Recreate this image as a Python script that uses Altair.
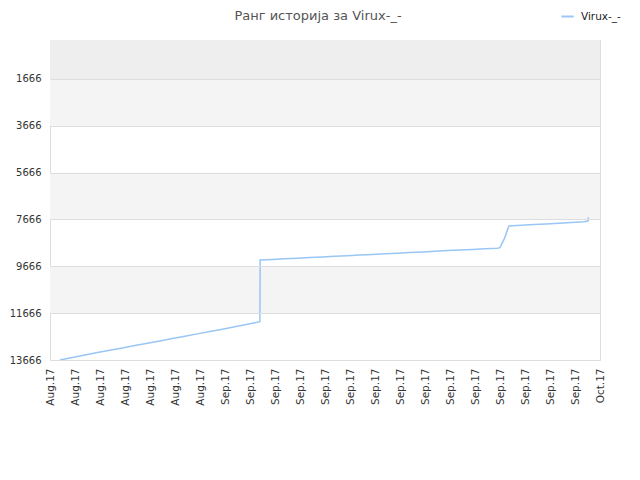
import altair as alt
import pandas as pd

# ---- data ----
dates = [
    "2017-08-18T19:00", "2017-08-19T19:00", "2017-08-20T19:00", "2017-08-21T19:00",
    "2017-08-22T19:00", "2017-08-23T19:00", "2017-08-24T19:00", "2017-08-25T19:00",
    "2017-08-26T19:00", "2017-08-27T19:00", "2017-08-28T19:00", "2017-08-29T19:00",
    "2017-08-30T19:00", "2017-08-31T19:00", "2017-09-01T19:00", "2017-09-02T19:00",
    "2017-09-03T19:00", "2017-09-03T19:30", "2017-09-04T19:00", "2017-09-05T19:00",
    "2017-09-06T19:00", "2017-09-07T19:00", "2017-09-08T19:00", "2017-09-09T19:00",
    "2017-09-10T19:00", "2017-09-11T19:00", "2017-09-12T19:00", "2017-09-13T19:00",
    "2017-09-14T19:00", "2017-09-15T19:00", "2017-09-16T19:00", "2017-09-17T19:00",
    "2017-09-18T19:00", "2017-09-19T19:00", "2017-09-20T19:00", "2017-09-21T19:00",
    "2017-09-22T19:00", "2017-09-23T00:00", "2017-09-23T09:00", "2017-09-23T17:00",
    "2017-09-24T17:00", "2017-09-25T17:00", "2017-09-26T17:00", "2017-09-27T17:00",
    "2017-09-28T17:00", "2017-09-29T17:00", "2017-09-30T01:00", "2017-09-30T02:00",
]
ranks = [
    13666, 13560, 13455, 13350,
    13250, 13150, 13050, 12950,
    12850, 12750, 12650, 12550,
    12450, 12350, 12250, 12140,
    12031, 9396, 9370, 9345,
    9320, 9290, 9265, 9240,
    9210, 9185, 9160, 9130,
    9105, 9075, 9050, 9020,
    8995, 8970, 8945, 8920,
    8895, 8870, 8450, 7944,
    7915, 7885, 7855, 7825,
    7795, 7765, 7730, 7573,
]
series_name = "Virux-_-"
y_ticks = [1666, 3666, 5666, 7666, 9666, 11666, 13666]
x_ticks = [
    "2017-08-18", "2017-08-20", "2017-08-22", "2017-08-24", "2017-08-26",
    "2017-08-28", "2017-08-30", "2017-09-01", "2017-09-03", "2017-09-05",
    "2017-09-07", "2017-09-09", "2017-09-11", "2017-09-13", "2017-09-15",
    "2017-09-17", "2017-09-19", "2017-09-21", "2017-09-23", "2017-09-25",
    "2017-09-27", "2017-09-29", "2017-10-01",
]
band_lo = [1, 1666, 5666, 9666]
band_hi = [1666, 3666, 7666, 11666]
band_col = ["#eeeeee", "#f4f4f4", "#f4f4f4", "#f4f4f4"]

df = pd.DataFrame({"date": pd.to_datetime(dates), "rank": ranks, "series": series_name})
bands = pd.DataFrame({"lo": band_lo, "hi": band_hi, "col": band_col})

x_dom = [pd.Timestamp("2017-08-18").isoformat(), pd.Timestamp("2017-10-01").isoformat()]
tick_vals = [alt.DateTime(year=int(t[0:4]), month=int(t[5:7]), date=int(t[8:10])) for t in x_ticks]

y_scale = alt.Scale(domain=[1, 13666], reverse=True, nice=False, zero=False)
x_scale = alt.Scale(domain=x_dom, nice=False)

y_axis = alt.Axis(values=y_ticks, format="d", ticks=False, domain=False, grid=True, zindex=1,
                  gridColor="#dddddd", labelPadding=9, labelFontSize=10,
                  labelColor="#333333", labelFont="DejaVu Sans")

band_layer = alt.Chart(bands).mark_rect().encode(
    x=alt.value(0), x2=alt.value(550),
    y=alt.Y("lo:Q", scale=y_scale, title=None, axis=y_axis),
    y2="hi:Q",
    color=alt.Color("col:N", scale=None, legend=None),
)

line = alt.Chart(df).mark_line(strokeWidth=1.5, interpolate="linear").encode(
    x=alt.X("date:T", scale=x_scale, title=None,
            axis=alt.Axis(values=tick_vals, labelExpr="timeFormat(datum.value, '%b.%y')",
                          labelAngle=-90, labelAlign="right", labelBaseline="middle",
                          ticks=False, grid=False, domain=False, labelPadding=8,
                          labelFontSize=10.5, labelColor="#333333", labelFont="DejaVu Sans",
                          labelOverlap=False)),
    y=alt.Y("rank:Q", scale=y_scale, title=None, axis=y_axis),
    color=alt.Color("series:N", scale=alt.Scale(range=["#99c6f3"]),
                    legend=alt.Legend(title=None, orient="none", legendX=510, legendY=-31,
                                      symbolType="stroke", symbolStrokeWidth=2, symbolSize=150,
                                      labelFontSize=10.5, labelFont="DejaVu Sans",
                                      labelColor="#222222", labelOffset=6)),
)

chart = alt.layer(band_layer, line).resolve_scale(color="independent").properties(
    width=550, height=320,
    autosize="none",
    padding={"left": 42, "top": 32, "right": 30, "bottom": 100},
    title=alt.TitleParams("Ранг историја за Virux-_-", fontSize=13, font="DejaVu Sans",
                          fontWeight="normal", color="#555555", anchor="middle",
                          frame="group", offset=16, dx=-7, dy=30),
).configure_view(stroke="#dddddd", strokeWidth=1)

chart.save("out.html", embed_options={"renderer": "svg", "actions": False})
